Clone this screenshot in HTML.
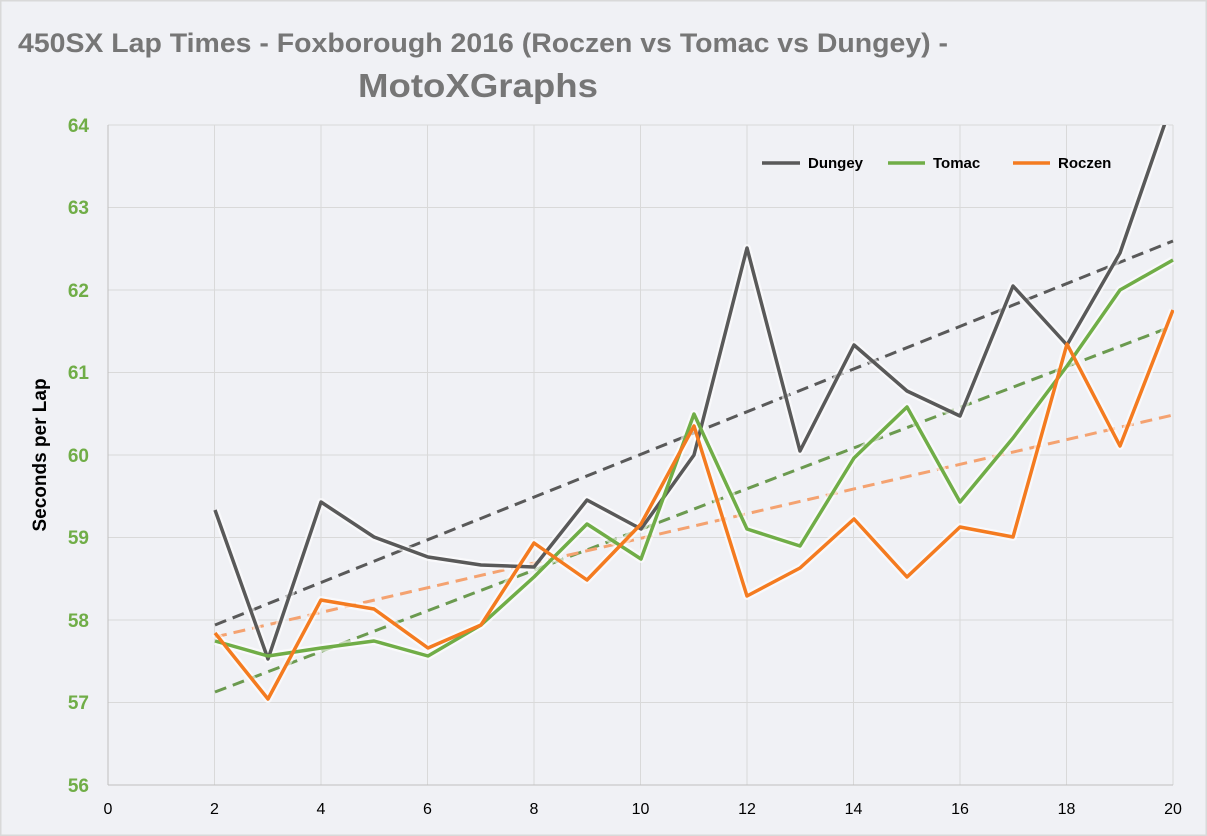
<!DOCTYPE html>
<html><head><meta charset="utf-8"><style>
html,body{margin:0;padding:0;background:#fff;}
svg{display:block;font-family:"Liberation Sans",sans-serif;}
</style></head><body>
<svg width="1207" height="836" viewBox="0 0 1207 836">
<rect x="0.5" y="0.5" width="1206" height="835" fill="#f0f1f5" stroke="#d9d9d9" stroke-width="2"/>
<text x="18" y="52" font-size="27" font-weight="bold" fill="#767676" textLength="930" lengthAdjust="spacingAndGlyphs">450SX Lap Times - Foxborough 2016 (Roczen vs Tomac vs Dungey) -</text>
<text x="358" y="97" font-size="33" font-weight="bold" fill="#767676" textLength="240" lengthAdjust="spacingAndGlyphs">MotoXGraphs</text>
<g stroke="#d9d9d9" stroke-width="1">
<line x1="108" y1="125" x2="1173" y2="125"/><line x1="108" y1="207.5" x2="1173" y2="207.5"/><line x1="108" y1="290" x2="1173" y2="290"/><line x1="108" y1="372.5" x2="1173" y2="372.5"/><line x1="108" y1="455" x2="1173" y2="455"/><line x1="108" y1="537.5" x2="1173" y2="537.5"/><line x1="108" y1="620" x2="1173" y2="620"/><line x1="108" y1="702.5" x2="1173" y2="702.5"/>
<line x1="214.5" y1="125" x2="214.5" y2="785"/><line x1="321" y1="125" x2="321" y2="785"/><line x1="427.5" y1="125" x2="427.5" y2="785"/><line x1="534" y1="125" x2="534" y2="785"/><line x1="640.5" y1="125" x2="640.5" y2="785"/><line x1="747" y1="125" x2="747" y2="785"/><line x1="853.5" y1="125" x2="853.5" y2="785"/><line x1="960" y1="125" x2="960" y2="785"/><line x1="1066.5" y1="125" x2="1066.5" y2="785"/><line x1="1173" y1="125" x2="1173" y2="785"/>
</g>
<line x1="108" y1="125" x2="108" y2="785" stroke="#bfbfbf"/>
<line x1="108" y1="785" x2="1173" y2="785" stroke="#bfbfbf"/>
<g font-size="19" font-weight="bold" fill="#70ad47" text-anchor="end">
<text x="89" y="132">64</text><text x="89" y="214">63</text><text x="89" y="297">62</text><text x="89" y="379">61</text><text x="89" y="462">60</text><text x="89" y="544">59</text><text x="89" y="627">58</text><text x="89" y="709">57</text><text x="89" y="792">56</text>
</g>
<g font-size="16" fill="#000" text-anchor="middle">
<text x="108" y="814">0</text><text x="214.5" y="814">2</text><text x="321" y="814">4</text><text x="427.5" y="814">6</text><text x="534" y="814">8</text><text x="640.5" y="814">10</text><text x="747" y="814">12</text><text x="853.5" y="814">14</text><text x="960" y="814">16</text><text x="1066.5" y="814">18</text><text x="1173" y="814">20</text>
</g>
<text transform="translate(46,455) rotate(-90)" font-size="19" font-weight="bold" text-anchor="middle" fill="#000">Seconds per Lap</text>
<defs><clipPath id="c"><rect x="108" y="125" width="1066" height="660"/></clipPath></defs>
<g clip-path="url(#c)" fill="none" stroke-linejoin="round">
<line x1="215" y1="625" x2="1173" y2="241" stroke="#595959" stroke-width="3" stroke-dasharray="12,7"/>
<line x1="215" y1="692" x2="1173" y2="326" stroke="#6b9a4f" stroke-width="3" stroke-dasharray="12,7"/>
<line x1="215" y1="637" x2="1173" y2="415" stroke="#f4a270" stroke-width="3" stroke-dasharray="12,7"/>
<g stroke="#ffffff" stroke-opacity="0.6" stroke-width="8">
<polyline points="215,510 268,659 321,502 374,537 428,557 481,565 534,567 587,500 641,529 694,455 747,248 800,451 854,345 907,391 960,416 1013,286 1067,345 1120,253 1173,100"/>
<polyline points="215,641 268,656 321,648 374,641 428,656 481,625 534,577 587,524 641,559 694,414 747,529 800,546 854,458 907,407 960,502 1013,438 1067,366 1120,290 1173,260"/>
<polyline points="215,633 268,699 321,600 374,609 428,648 481,625 534,543 587,580 641,524 694,426 747,596 800,568 854,519 907,577 960,527 1013,537 1067,344 1120,446 1173,310"/>
</g>
<polyline stroke="#595959" stroke-width="3.5" points="215,510 268,659 321,502 374,537 428,557 481,565 534,567 587,500 641,529 694,455 747,248 800,451 854,345 907,391 960,416 1013,286 1067,345 1120,253 1173,100"/>
<polyline stroke="#70ad47" stroke-width="3.5" points="215,641 268,656 321,648 374,641 428,656 481,625 534,577 587,524 641,559 694,414 747,529 800,546 854,458 907,407 960,502 1013,438 1067,366 1120,290 1173,260"/>
<polyline stroke="#f47b20" stroke-width="3.5" points="215,633 268,699 321,600 374,609 428,648 481,625 534,543 587,580 641,524 694,426 747,596 800,568 854,519 907,577 960,527 1013,537 1067,344 1120,446 1173,310"/>
</g>
<g font-size="15" font-weight="bold" fill="#000">
<line x1="762" y1="163" x2="800" y2="163" stroke="#595959" stroke-width="3.5"/><text x="808" y="168">Dungey</text>
<line x1="888" y1="163" x2="925" y2="163" stroke="#70ad47" stroke-width="3.5"/><text x="933" y="168">Tomac</text>
<line x1="1013" y1="163" x2="1050" y2="163" stroke="#f47b20" stroke-width="3.5"/><text x="1058" y="168">Roczen</text>
</g>
</svg>
</body></html>
